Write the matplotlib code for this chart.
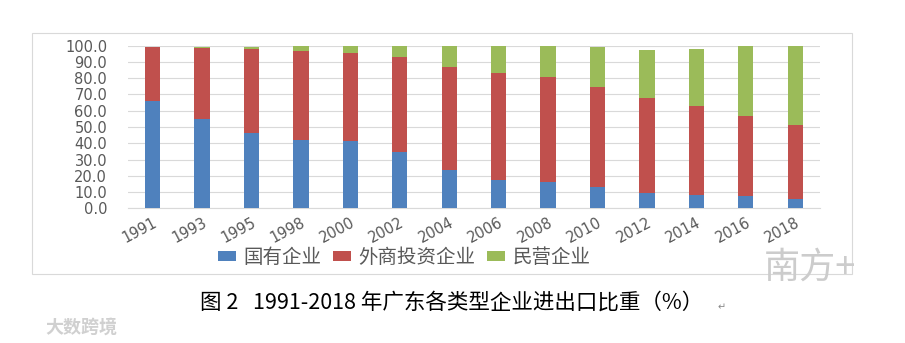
import matplotlib
matplotlib.use("Agg")
import matplotlib.pyplot as plt
import matplotlib.patches as mpatches
import numpy as np

plt.rcParams['font.family'] = ['Noto Sans CJK SC', 'DejaVu Sans']

# data (% share of Guangdong import/export)
years = ["1991", "1993", "1995", "1998", "2000", "2002", "2004",
         "2006", "2008", "2010", "2012", "2014", "2016", "2018"]
state_owned = [66.0, 54.7, 46.1, 42.0, 41.6, 34.4, 23.4,
               17.6, 16.2, 12.9, 9.6, 8.4, 7.6, 5.7]
foreign = [33.0, 44.1, 51.6, 54.9, 54.1, 58.4, 63.5,
           65.8, 64.5, 61.9, 58.0, 54.5, 49.0, 45.3]
private = [0.2, 0.4, 1.5, 3.1, 4.1, 7.2, 13.1,
           16.6, 19.3, 24.4, 29.5, 35.0, 43.4, 49.0]
series_names = ["国有企业", "外商投资企业", "民营企业"]

BLUE, RED, GREEN = "#4F81BD", "#C0504D", "#9BBB59"
GREY = "#595959"

fig = plt.figure(figsize=(9.05, 3.43), dpi=100)
ax = fig.add_axes([0.1414, 0.3927, 0.7646, 0.4741])

x = np.arange(len(years))
w = 0.31
so = np.array(state_owned)
fo = np.array(foreign)
pr = np.array(private)
ax.bar(x, so, w, color=BLUE, label=series_names[0], zorder=3)
ax.bar(x, fo, w, bottom=so, color=RED, label=series_names[1], zorder=3)
ax.bar(x, pr, w, bottom=so + fo, color=GREEN, label=series_names[2], zorder=3)

ax.set_xlim(-0.5, len(years) - 0.5)
ax.set_ylim(0, 100)
ax.set_yticks(np.arange(0, 101, 10))
ax.set_yticklabels([f"{v:.1f}" for v in np.arange(0, 101, 10)],
                   family="DejaVu Sans", fontsize=10.5, color=GREY)
ax.grid(axis="y", color="#d9d9d9", linewidth=0.8, zorder=0)
for s in ["top", "right", "left"]:
    ax.spines[s].set_visible(False)
ax.spines["bottom"].set_color("#d9d9d9")
ax.tick_params(axis="y", length=0, pad=15)
ax.tick_params(axis="x", length=0, pad=5)
ax.set_xticks(x)
ax.set_xticklabels(years, rotation=28, ha="right", va="top",
                   rotation_mode="anchor", family="DejaVu Sans",
                   fontsize=10.5, color=GREY)

leg = fig.legend(loc="center", bbox_to_anchor=(0.447, 0.25), ncol=3,
                 frameon=False, fontsize=14, handlelength=0.9,
                 handleheight=0.45, handletextpad=0.4, columnspacing=0.6)
for t in leg.get_texts():
    t.set_color(GREY)

# chart border
fig.patches.append(mpatches.Rectangle((32 / 905, 1 - 274 / 343), 820 / 905, 241 / 343,
                                      transform=fig.transFigure, fill=False,
                                      edgecolor="#d9d9d9", linewidth=0.8))

fig.text(0.499, 1 - 303 / 343, "图 2   1991-2018 年广东各类型企业进出口比重（%）",
         ha="center", va="center", fontsize=15.5, color="black")
fig.text(722 / 905, 1 - 307 / 343, "↵", ha="center", va="center",
         fontsize=7, color="#888888", family=["DejaVu Sans"])

# watermarks
fig.text(0.05, 1 - 327 / 343, "大数跨境", ha="left", va="center",
         fontsize=13, color="#d0d0d0", fontweight="bold")
fig.text(810 / 905, 1 - 268 / 343, "南方+", ha="center", va="center",
         fontsize=26, color="#cccccc", style="italic")

fig.savefig("out.png", dpi=100)
